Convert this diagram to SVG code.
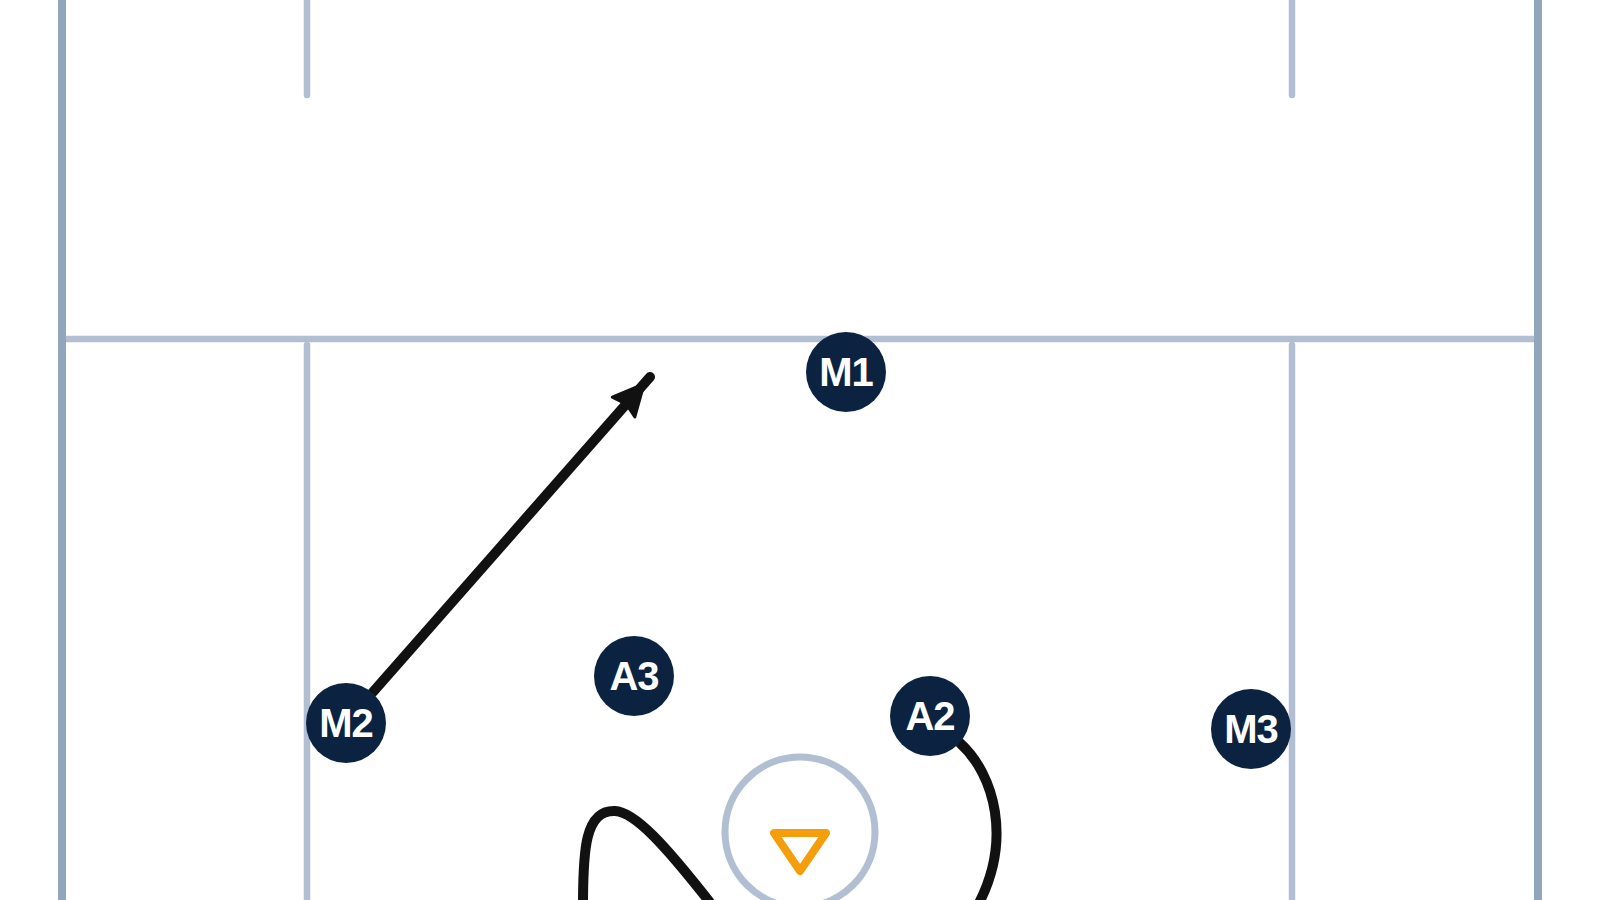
<svg xmlns="http://www.w3.org/2000/svg" width="1600" height="900" viewBox="0 0 1600 900">
  <style>
    .node circle { fill: #0b2240; }
    .node text { fill: #ffffff; font-family: "Liberation Sans", Arial, sans-serif; font-weight: bold; font-size: 40px; text-anchor: middle; letter-spacing: -1px; }
  </style>
  <defs>
    <marker id="arrow" markerUnits="userSpaceOnUse" viewBox="-50 -20 56 40" refX="0" refY="0" markerWidth="56" markerHeight="40" orient="auto">
      <path d="M -9 0 L -40 -15 L -36 0 L -40 15 Z" fill="#111111" stroke="#111111" stroke-width="3" stroke-linejoin="round"/>
    </marker>
  </defs>
  <rect x="0" y="0" width="1600" height="900" fill="#ffffff"/>
  <g id="field" fill="none" stroke-linecap="round">
    <g stroke="#b2bed2" stroke-width="6.5">
      <line x1="62" y1="339" x2="1538" y2="339"/>
      <line x1="307" y1="-5" x2="307" y2="95"/>
      <line x1="1292" y1="-5" x2="1292" y2="95"/>
      <line x1="307" y1="345" x2="307" y2="905"/>
      <line x1="1292" y1="345" x2="1292" y2="905"/>
    </g>
    <g stroke="#93a5bd" stroke-width="8" stroke-linecap="butt">
      <line x1="62" y1="0" x2="62" y2="900"/>
      <line x1="1538" y1="0" x2="1538" y2="900"/>
    </g>
    <circle cx="800" cy="832" r="75" stroke="#b2bed2" stroke-width="7"/>
    <path d="M 774 833 L 826 833 L 800 871 Z" stroke="#f59e0b" stroke-width="8" stroke-linejoin="round"/>
  </g>
  <g id="connectors" fill="none" stroke="#111111" stroke-width="10" stroke-linecap="round" stroke-linejoin="round">
    <path d="M 373 692 L 650 377" marker-end="url(#arrow)"/>
    <path d="M 960 743 C 995 775, 1012 840, 978 905"/>
    <path d="M 583 905 C 583 850, 585 810, 615 811 C 635 812, 665 845, 712 905"/>
  </g>
  <g id="M1" class="node"><circle cx="846" cy="372" r="40"/><text x="846" y="386">M1</text></g>
  <g id="M2" class="node"><circle cx="346" cy="723" r="40"/><text x="346" y="737">M2</text></g>
  <g id="A3" class="node"><circle cx="634" cy="676" r="40"/><text x="634" y="690">A3</text></g>
  <g id="A2" class="node"><circle cx="930" cy="716" r="40"/><text x="930" y="730">A2</text></g>
  <g id="M3" class="node"><circle cx="1251" cy="729" r="40"/><text x="1251" y="743">M3</text></g>
</svg>
